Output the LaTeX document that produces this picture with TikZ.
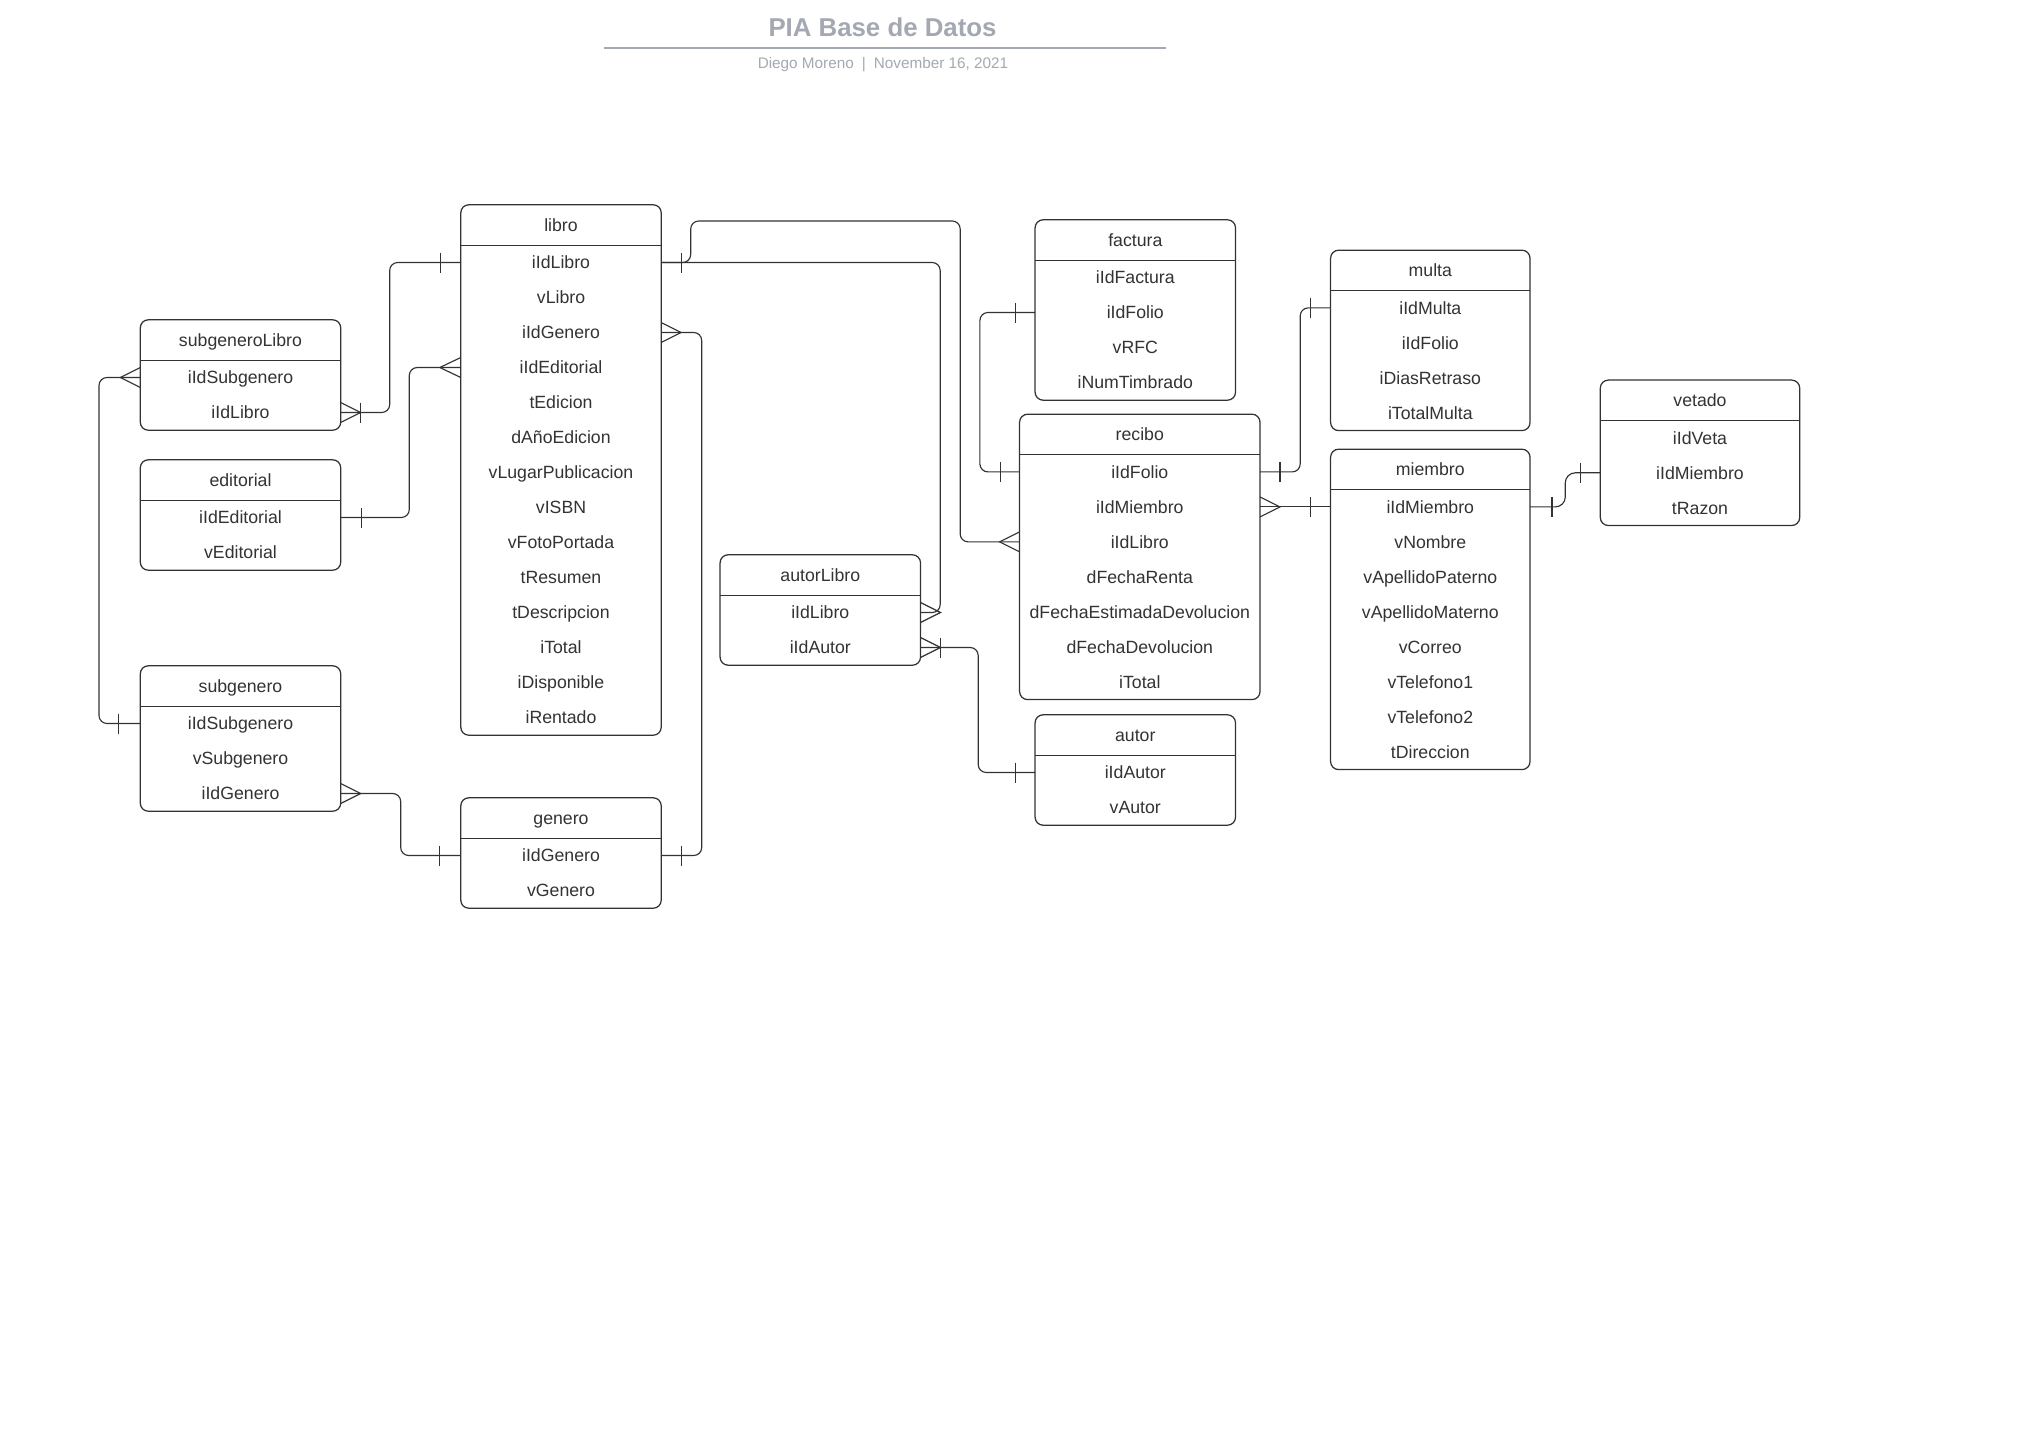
\documentclass[tikz,border=0pt]{standalone}
\usepackage{fontspec}
\setmainfont{Liberation Sans}
\usetikzlibrary{calc,fit}
\definecolor{ink}{RGB}{51,51,51}
\definecolor{titlegray}{RGB}{163,168,178}
\tikzset{
  tblbox/.style={draw=ink, line width=1.25pt, rounded corners=8pt, inner sep=0pt},
  cellhead/.style={inner sep=0pt, minimum height=40pt, text=ink, text height=16.6pt, text depth=4pt, font=\fontsize{17.7}{21}\selectfont},
  cellrow/.style={inner sep=0pt, minimum height=35pt, text=ink, text height=16.6pt, text depth=4pt, font=\fontsize{17.7}{21}\selectfont},
  conn/.style={draw=ink, line width=1.15pt, rounded corners=8pt},
  ermark/.style={draw=ink, line width=1.15pt},
}
\newcommand\ertable[7]{%
  \node[cellhead, minimum width=#4pt] (#1-h) at ({#2},{#3+20}) {#5};
  \foreach \r [count=\i] in {#7} {
    \node[cellrow, minimum width=#4pt] (#1-\i) at ({#2},{#3+57.5+35*(\i-1)}) {\r};
  }
  \node[tblbox, fit=(#1-h)(#1-#6)] (#1) {};
  \draw[ermark] (#1-h.south west) -- (#1-h.south east);
}
\newcommand\erBar[2]{\draw[ermark] ($(#1)+(#2,-10)$) -- ($(#1)+(#2,10)$);}
\newcommand\erCrow[2]{\draw[ermark] ($(#1)+(0,-10)$) -- ($(#1)+(#2,0)$) -- ($(#1)+(0,10)$);}
\begin{document}
\begin{tikzpicture}[x=1pt,y=-1pt]
\useasboundingbox (0,0) rectangle (2024,1437);
\fill[white] (0,0) rectangle (2024,1437);
% title
\node[anchor=base, inner sep=0pt, text=titlegray, font=\bfseries\fontsize{25.8}{30}\selectfont] (title) at (882.5,36.7) {PIA Base de Datos};
\draw[titlegray, line width=2pt] (604,47.7) -- (1165.5,47.7);
\node[anchor=base, inner sep=0pt, text=titlegray, font=\fontsize{15.3}{18}\selectfont] (subtitle) at (883,68.3) {Diego Moreno\hspace{8pt}|\hspace{8pt}November 16, 2021};
% tables
\ertable{libro}{561}{205}{200}{libro}{14}{iIdLibro,vLibro,iIdGenero,iIdEditorial,tEdicion,dAñoEdicion,vLugarPublicacion,vISBN,vFotoPortada,tResumen,tDescripcion,iTotal,iDisponible,iRentado}
\ertable{subgeneroLibro}{240.5}{320}{200}{subgeneroLibro}{2}{iIdSubgenero,iIdLibro}
\ertable{editorial}{240.5}{460}{200}{editorial}{2}{iIdEditorial,vEditorial}
\ertable{subgenero}{240.5}{666}{200}{subgenero}{3}{iIdSubgenero,vSubgenero,iIdGenero}
\ertable{genero}{561}{798}{200}{genero}{2}{iIdGenero,vGenero}
\ertable{autorLibro}{820.3}{555}{200}{autorLibro}{2}{iIdLibro,iIdAutor}
\ertable{factura}{1135.3}{220}{200}{factura}{4}{iIdFactura,iIdFolio,vRFC,iNumTimbrado}
\ertable{recibo}{1139.8}{414.4}{240}{recibo}{7}{iIdFolio,iIdMiembro,iIdLibro,dFechaRenta,dFechaEstimadaDevolucion,dFechaDevolucion,iTotal}
\ertable{autor}{1135.3}{715}{200}{autor}{2}{iIdAutor,vAutor}
\ertable{multa}{1430.3}{250.4}{199}{multa}{4}{iIdMulta,iIdFolio,iDiasRetraso,iTotalMulta}
\ertable{miembro}{1430.3}{449.4}{199}{miembro}{8}{iIdMiembro,vNombre,vApellidoPaterno,vApellidoMaterno,vCorreo,vTelefono1,vTelefono2,tDireccion}
\ertable{vetado}{1700}{380.3}{199}{vetado}{3}{iIdVeta,iIdMiembro,tRazon}
% connectors
\draw[conn] (subgeneroLibro-2.east) -- ++(49,0) |- (libro-1.west);
\erCrow{subgeneroLibro-2.east}{20}\erBar{subgeneroLibro-2.east}{20}\erBar{libro-1.west}{-20}
\draw[conn] (editorial-1.east) -- ++(68.6,0) |- (libro-4.west);
\erBar{editorial-1.east}{21}\erCrow{libro-4.west}{-21}
\draw[conn] (libro-3.east) -- ++(40.5,0) |- (genero-1.east);
\erCrow{libro-3.east}{20}\erBar{genero-1.east}{20}
\draw[conn] (subgeneroLibro-1.west) -- ++(-41.3,0) |- (subgenero-1.west);
\erCrow{subgeneroLibro-1.west}{-20}\erBar{subgenero-1.west}{-22}
\draw[conn] (subgenero-3.east) -- ++(60,0) |- (genero-1.west);
\erCrow{subgenero-3.east}{20}\erBar{genero-1.west}{-21}
\draw[conn] (libro-1.east) -- ++(279,0) |- (autorLibro-1.east);
\erBar{libro-1.east}{20}\erCrow{autorLibro-1.east}{20}
\draw[conn] (libro-1.east) -- ++(29.5,0) -- ++(0,-41.5) -- ++(269.5,0) |- (recibo-3.west);
\erCrow{recibo-3.west}{-20}
\draw[conn] (factura-2.west) -- ++(-55.2,0) |- (recibo-1.west);
\erBar{factura-2.west}{-20}\erBar{recibo-1.west}{-19}
\draw[conn] (recibo-1.east) -- ++(40.2,0) |- (multa-1.west);
\erBar{recibo-1.east}{20}\erBar{multa-1.west}{-20}
\draw[conn] (recibo-2.east) -- (miembro-1.west);
\erCrow{recibo-2.east}{20}\erBar{miembro-1.west}{-20}
\draw[conn, rounded corners=10pt] (miembro-1.east) -- ++(35.3,0) |- (vetado-2.west);
\erBar{miembro-1.east}{22}\erBar{vetado-2.west}{-20}
\draw[conn] (autorLibro-2.east) -- ++(57.7,0) |- (autor-1.west);
\erCrow{autorLibro-2.east}{20}\erBar{autorLibro-2.east}{20}\erBar{autor-1.west}{-20}
\end{tikzpicture}
\end{document}
